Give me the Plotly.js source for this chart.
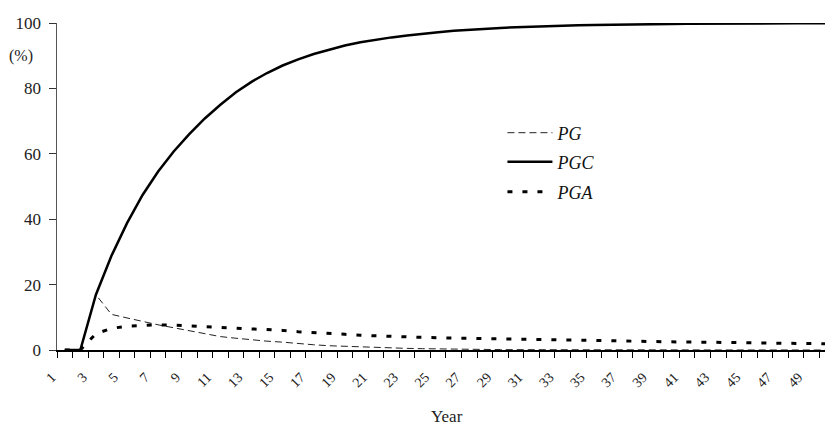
<!DOCTYPE html>
<html>
<head>
<meta charset="utf-8">
<script src="https://cdn.plot.ly/plotly-3.0.1.min.js"></script>
<style>html,body{margin:0;padding:0;background:#fff;}#chart{width:825px;height:425px;}</style>
</head>
<body>
<div id="chart"></div>
<script>
var years = [];
for (var i = 1; i <= 50; i++) years.push(i);

var pgc = [0, 0, 16.9, 28.8, 38.8, 47.4, 54.6, 60.7, 66.0, 70.8,
           75.0, 78.8, 82.0, 84.7, 87.0, 88.9, 90.5, 91.9, 93.1, 94.1,
           94.9, 95.6, 96.2, 96.75, 97.2, 97.6, 97.95, 98.25, 98.5, 98.7,
           98.9, 99.05, 99.2, 99.3, 99.4, 99.5, 99.55, 99.6, 99.65, 99.7,
           99.75, 99.8, 99.82, 99.85, 99.87, 99.9, 99.9, 99.92, 99.93, 99.95];

var pg = [0, 0, 16.9, 10.9, 9.8, 8.7, 7.7, 6.8, 5.9, 5.0,
          4.1, 3.6, 3.1, 2.7, 2.4, 1.9, 1.6, 1.3, 1.1, 0.9,
          0.75, 0.6, 0.5, 0.4, 0.3, 0.25, 0.2, 0.15, 0.12, 0.1,
          0.08, 0.07, 0.06, 0.05, 0.04, 0.03, 0.03, 0.02, 0.02, 0.02,
          0.01, 0.01, 0.01, 0.01, 0.01, 0, 0, 0, 0, 0];

var pga = [0, 0, 5.0, 6.6, 7.3, 7.6, 7.7, 7.6, 7.4, 7.2,
           7.0, 6.8, 6.5, 6.2, 6.0, 5.6, 5.4, 5.1, 4.8, 4.5,
           4.3, 4.1, 3.95, 3.85, 3.75, 3.65, 3.55, 3.45, 3.35, 3.25,
           3.2, 3.1, 3.0, 2.9, 2.85, 2.8, 2.7, 2.6, 2.55, 2.5,
           2.45, 2.4, 2.3, 2.2, 2.15, 2.1, 2.05, 2.0, 1.95, 1.9];

var xTickVals = [];
var xTickText = [];
for (var k = 1; k <= 49; k += 2) { xTickVals.push(k); xTickText.push(String(k)); }
var yTickVals = [0, 20, 40, 60, 80, 100];

var serif = 'Liberation Serif, Times New Roman, serif';

var traces = [
  {x: years, y: pg, name: 'PG', type: 'scatter', mode: 'lines', legend: 'legend',
   line: {color: '#222', width: 1, dash: '7px,4px'}},
  {x: years, y: pgc, name: 'PGC', type: 'scatter', mode: 'lines', legend: 'legend2',
   line: {color: '#000', width: 2.5}},
  {x: years, y: pga, name: 'PGA', type: 'scatter', mode: 'lines', legend: 'legend3',
   line: {color: '#000', width: 3, dash: '5px,10px'}}
];

function leg(y) {
  return {x: 0.58, y: y, xanchor: 'left', yanchor: 'middle', bgcolor: 'rgba(0,0,0,0)',
          borderwidth: 0, itemwidth: 45, font: {family: serif, size: 18, color: '#111', style: 'italic'}};
}

var layout = {
  width: 825, height: 425,
  margin: {l: 57, r: 0, t: 23, b: 75},
  paper_bgcolor: '#fff', plot_bgcolor: '#fff',
  showlegend: true,
  legend: leg((350 - 133) / 327),
  legend2: leg((350 - 162) / 327),
  legend3: leg((350 - 192) / 327),
  xaxis: {
    range: [0.5, 49.86], showgrid: false, zeroline: false,
    showline: true, linecolor: '#000', linewidth: 1.5,
    tickmode: 'array', tickvals: xTickVals, ticktext: xTickText,
    ticks: '', tickangle: -45, ticklabelshift: -13, ticklabelstandoff: 12,
    tickfont: {family: serif, size: 14, color: '#222'},
    minor: {tick0: 0.5, dtick: 1, ticks: 'outside', ticklen: 6, tickwidth: 1, tickcolor: '#000', showgrid: false}
  },
  yaxis: {
    range: [0, 100], showgrid: false, zeroline: false,
    showline: true, linecolor: '#555', linewidth: 1.5,
    tickmode: 'array', tickvals: yTickVals,
    ticks: 'outside', ticklen: 7, tickwidth: 1, tickcolor: '#333',
    ticklabelstandoff: 4,
    tickfont: {family: serif, size: 17, color: '#222'}
  },
  annotations: [
    {text: '(%)', xref: 'paper', yref: 'y', x: (21 - 57) / 768, y: 90, xanchor: 'center', yanchor: 'middle',
     showarrow: false, font: {family: serif, size: 16, color: '#222'}},
    {text: 'Year', xref: 'paper', yref: 'paper', x: (447 - 57) / 768, y: (350 - 416) / 327,
     xanchor: 'center', yanchor: 'middle', showarrow: false, font: {family: serif, size: 17, color: '#222'}}
  ]
};

Plotly.newPlot('chart', traces, layout, {displayModeBar: false, staticPlot: true});
</script>
</body>
</html>
